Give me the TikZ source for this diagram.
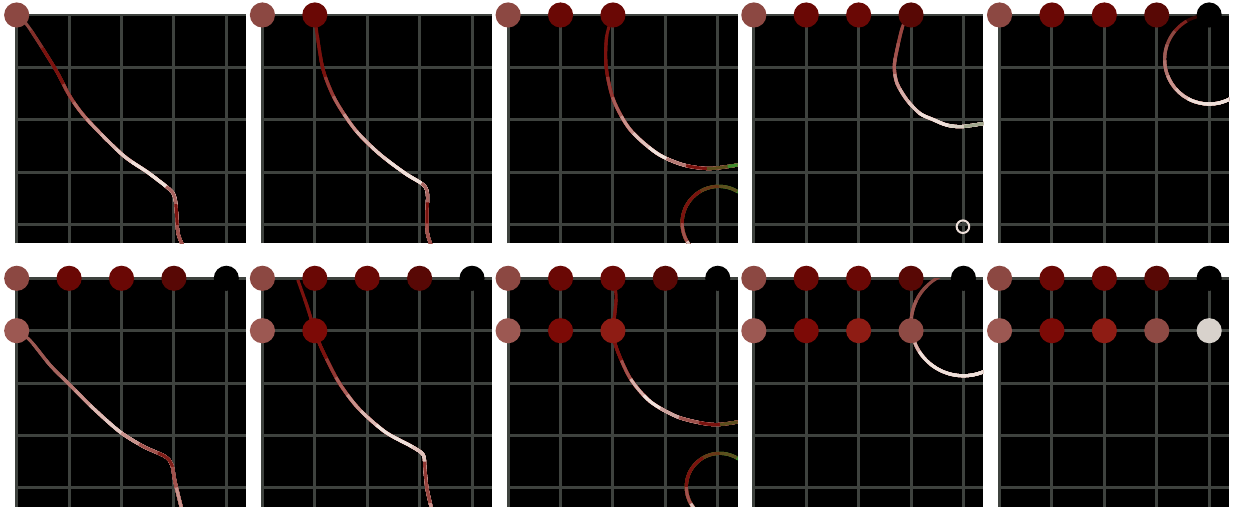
\documentclass[tikz,border=0pt]{standalone}
\usepackage{tikz}

\definecolor{gridgray}{RGB}{62,66,62}
\definecolor{top0}{RGB}{140,72,66}
\definecolor{top1}{RGB}{106,8,5}
\definecolor{top2}{RGB}{106,8,5}
\definecolor{top3}{RGB}{88,8,5}
\definecolor{top4}{RGB}{0,0,0}
\definecolor{low0}{RGB}{156,88,82}
\definecolor{low1}{RGB}{124,10,6}
\definecolor{low2}{RGB}{142,28,20}
\definecolor{low3}{RGB}{142,74,68}
\definecolor{low4}{RGB}{216,210,204}
\definecolor{wire}{RGB}{122,18,14}
\definecolor{blush}{RGB}{200,146,140}
\definecolor{pale}{RGB}{238,224,218}
\definecolor{leaf}{RGB}{62,140,44}
\definecolor{sage}{RGB}{160,166,140}

% path #3 cut in pieces of length #2 (cm), one colour each
\newcommand{\fadepath}[3]{%
  \foreach \col [count=\k from 0] in {#1} {
    \pgfmathsetmacro\gapl{\k*#2+0.001}
    \draw[curve, draw=\col, dash pattern=on 0pt off \gapl cm on 200cm off 1pt] #3;
  }%
}

\begin{document}
\begin{tikzpicture}[
    panel/.style 2 args={shift={(0.319+4.689*#1,-0.286-5.025*#2)}},
    dot/.style={circle, inner sep=0pt, minimum size=0.48cm},
    gridline/.style={draw=gridgray, line width=1.6pt},
    curve/.style={line width=1.7pt, line cap=butt},
    ring/.style={draw=pale, line width=1.1pt}
  ]
  \useasboundingbox (0,0) rectangle (23.53,-9.676);

  % Boards
  \foreach \i in {0,...,4}
    \foreach \j in {0,1} {
      \begin{scope}[panel={\i}{\j}]
        \fill[black] (0,0) rectangle (4.38,-4.36);
        \draw[gridline, step=1] (0,-4.36) grid (4.38,0);
      \end{scope}
    }

  % Row 1
  \begin{scope}[panel={0}{0}]
    \clip (0,0) rectangle (4.38,-4.36);
    \fadepath{top0, top0!50!wire, wire, wire, wire!60!blush, wire!30!blush, blush, blush!60!pale, blush!30!pale, pale, pale, pale!40!wire, wire, wire!50!blush}{0.4}
      {plot[smooth] coordinates {(0,0) (0.22,-0.22) (0.73,-1.02) (1.02,-1.56) (1.34,-1.99) (2.02,-2.67) (2.51,-3.01) (2.93,-3.34) (3.02,-3.50) (3.05,-3.78) (3.08,-4.17) (3.19,-4.45)}}
  \end{scope}

  \begin{scope}[panel={1}{0}]
    \clip (0,0) rectangle (4.38,-4.36);
    \fadepath{wire, wire, wire, wire!70!blush, wire!40!blush, blush, blush!60!pale, blush!30!pale, pale, pale, pale!40!wire, wire, wire!50!blush}{0.4}
      {plot[smooth] coordinates {(1,0) (1.04,-0.35) (1.16,-1.05) (1.39,-1.62) (1.77,-2.19) (2.22,-2.64) (2.72,-3.02) (3.07,-3.24) (3.15,-3.42) (3.14,-3.78) (3.15,-4.17) (3.24,-4.45)}}
  \end{scope}

  \begin{scope}[panel={2}{0}]
    \clip (0,0) rectangle (4.38,-4.36);
    \fadepath{wire, wire, wire, wire!70!blush, wire!40!blush, blush, blush!40!pale, pale, pale!50!wire, wire, wire!50!leaf, leaf}{0.4}
      {plot[smooth] coordinates {(2,0) (1.88,-0.41) (1.87,-0.99) (2.01,-1.62) (2.33,-2.19) (2.84,-2.64) (3.34,-2.86) (3.85,-2.93) (4.45,-2.85)}}
    \fadepath{leaf, leaf, leaf!50!wire, wire!70!leaf, wire, wire, wire!50!blush, blush!40!pale, pale, pale, pale!50!leaf, leaf}{0.3665}
      {(4.02,-3.97) circle[radius=0.7]}
  \end{scope}

  \begin{scope}[panel={3}{0}]
    \clip (0,0) rectangle (4.38,-4.36);
    \fadepath{wire!60!blush, wire!60!blush, wire!50!blush, wire!40!blush, blush, blush!60!pale, blush!30!pale, pale, pale, pale!70!sage, sage, sage}{0.3}
      {plot[smooth] coordinates {(3,0) (2.85,-0.19) (2.73,-0.67) (2.68,-0.99) (2.73,-1.30) (2.92,-1.62) (3.17,-1.88) (3.43,-2.00) (3.68,-2.10) (3.97,-2.13) (4.45,-2.06)}}
    \draw[ring] (3.99,-4.04) circle[radius=0.12];
  \end{scope}

  \begin{scope}[panel={4}{0}]
    \clip (0,0) rectangle (4.38,-4.36);
    \fadepath{top3!60!black, wire!70!top0, top0, top0!70!blush, top0!40!blush, blush, blush!50!pale, pale, pale, pale, pale, pale}{0.3}
      {(4,-0.85) ++(100:0.85) arc[start angle=100, end angle=305, radius=0.85]}
  \end{scope}

  % Row 2
  \begin{scope}[panel={0}{1}]
    \clip (0,0) rectangle (4.38,-4.36);
    \fadepath{low0, low0, low0!80!blush, low0!50!blush, blush, blush!50!pale, pale!70!blush, blush, blush!50!wire, wire!80!top0, wire!50!blush, blush}{0.4}
      {plot[smooth] coordinates {(0,-1) (0.25,-1.18) (0.64,-1.66) (1.02,-2.04) (1.46,-2.48) (1.97,-2.93) (2.42,-3.21) (2.83,-3.40) (2.96,-3.56) (3.02,-3.88) (3.16,-4.45)}}
  \end{scope}

  \begin{scope}[panel={1}{1}]
    \clip (0,0) rectangle (4.38,-4.36);
    \fadepath{wire, wire, wire, wire, wire!70!blush, wire!40!blush, blush, blush!50!pale, pale, pale, pale!60!blush, wire!70!blush, wire!60!blush, blush}{0.4}
      {plot[smooth] coordinates {(0.675,-0.03) (0.845,-0.51) (1,-1) (1.13,-1.34) (1.45,-1.97) (1.83,-2.48) (2.34,-2.93) (2.85,-3.21) (3.07,-3.37) (3.10,-3.63) (3.14,-4.01) (3.24,-4.45)}}
  \end{scope}

  \begin{scope}[panel={2}{1}]
    \clip (0,0) rectangle (4.38,-4.36);
    \fadepath{wire, wire, wire, wire, wire!50!blush, blush!60!pale, pale, pale!70!wire, wire!70!pale, wire, wire!50!leaf, leaf}{0.4}
      {plot[smooth] coordinates {(2,0) (2.06,-0.32) (2.04,-0.64) (2,-1) (2.07,-1.34) (2.33,-1.91) (2.71,-2.35) (3.22,-2.64) (3.73,-2.77) (4.04,-2.79) (4.45,-2.73)}}
    \fadepath{leaf, leaf, leaf!50!wire, wire!70!leaf, wire, wire, wire!50!blush, blush!40!pale, pale, pale, pale!50!leaf, leaf}{0.335}
      {(4.04,-3.98) circle[radius=0.64]}
  \end{scope}

  \begin{scope}[panel={3}{1}]
    \clip (0,0) rectangle (4.38,-4.36);
    \fadepath{top0, top0, top0!80!blush, top0!50!blush, blush!60!pale, pale, pale, pale, pale, pale}{0.34}
      {(4,-0.86) ++(115:1.0) arc[start angle=115, end angle=305, radius=1.0]}
  \end{scope}

  % Pegs
  \foreach \i in {0,...,4} {
    \begin{scope}[panel={\i}{0}]
      \foreach \c in {0,...,\i}
        \node[dot, fill=top\c] (a\i\c) at (\c,0) {};
    \end{scope}
    \begin{scope}[panel={\i}{1}]
      \foreach \c in {0,...,4}
        \node[dot, fill=top\c] (b\i\c) at (\c,0) {};
      \foreach \c in {0,...,\i}
        \node[dot, fill=low\c] (c\i\c) at (\c,-1) {};
    \end{scope}
  }
\end{tikzpicture}
\end{document}
